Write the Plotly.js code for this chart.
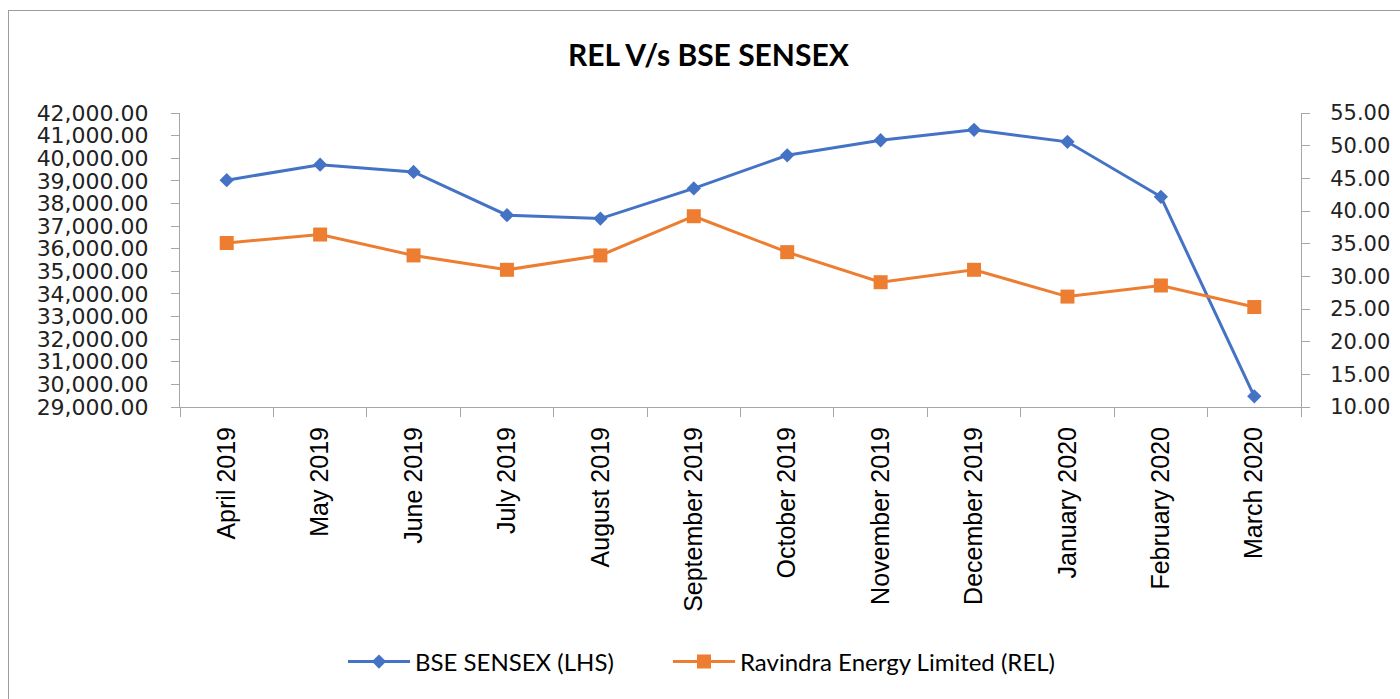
<!DOCTYPE html>
<html>
<head>
<meta charset="utf-8">
<script src="https://cdn.plot.ly/plotly-3.0.1.min.js"></script>
<style>
  html, body { margin: 0; padding: 0; overflow: hidden; background: #fff; }
  #chart { position: absolute; left: 0; top: 0; width: 1400px; height: 699px; }
  #frame { position: absolute; left: 8px; top: 10px; width: 1500px; height: 800px;
           border: 1px solid #9c9c9c; pointer-events: none; }
</style>
</head>
<body>
<div id="chart"></div>
<div id="frame"></div>
<script>
const months = ["April 2019","May 2019","June 2019","July 2019","August 2019","September 2019",
                "October 2019","November 2019","December 2019","January 2020","February 2020","March 2020"];
const sensex = [39030, 39715, 39395, 37480, 37330, 38665, 40130, 40795, 41255, 40725, 38295, 29470];
const rel = [35.1, 36.4, 33.2, 31.0, 33.2, 39.2, 33.7, 29.1, 31.0, 26.9, 28.6, 25.3];
const leftTicks = [29000,30000,31000,32000,33000,34000,35000,36000,37000,38000,39000,40000,41000,42000];
const rightTicks = [10,15,20,25,30,35,40,45,50,55];
const seriesNames = ['BSE SENSEX (LHS)', 'Ravindra Energy Limited (REL)'];

const axisGray = '#a6a6a6';
const pad = '\u00A0'.repeat(8);
const traces = [
  { x: months, y: sensex, name: seriesNames[0] + pad, type: 'scatter', mode: 'lines+markers',
    line: { color: '#4472C4', width: 3 }, marker: { symbol: 'diamond', size: 11, color: '#4472C4' },
    yaxis: 'y' },
  { x: months, y: rel, name: seriesNames[1], type: 'scatter', mode: 'lines+markers',
    line: { color: '#ED7D31', width: 3 }, marker: { symbol: 'square', size: 14, color: '#ED7D31' },
    yaxis: 'y2' }
];

const layout = {
  width: 1400, height: 699,
  paper_bgcolor: '#ffffff', plot_bgcolor: '#ffffff',
  margin: { l: 180, r: 99, t: 113, b: 292 },
  title: { text: '<b>REL V/s BSE SENSEX</b>', xref: 'container', x: 0.506, xanchor: 'center',
           yref: 'container', y: 0.921, yanchor: 'middle',
           font: { family: 'Lato, "Liberation Sans", sans-serif', size: 30, color: '#000' } },
  xaxis: {
    type: 'category', range: [-0.5, 11.5], tickangle: -90, tickson: 'boundaries',
    showline: true, linecolor: axisGray, linewidth: 1, ticks: 'outside', ticklen: 9, tickcolor: axisGray,
    showgrid: false, zeroline: false, ticklabelstandoff: 9,
    tickfont: { family: '"Liberation Sans", Arial, sans-serif', size: 25, color: '#000' }
  },
  yaxis: {
    range: [29000, 42000], tickvals: leftTicks, tickformat: ',.2f',
    showline: true, linecolor: axisGray, linewidth: 1, ticks: 'outside', ticklen: 8, tickcolor: axisGray,
    showgrid: false, zeroline: false, ticklabelstandoff: 18,
    tickfont: { family: '"DejaVu Sans", sans-serif', size: 22, color: '#222' }
  },
  yaxis2: {
    range: [10, 55], tickvals: rightTicks, tickformat: '.2f', overlaying: 'y', side: 'right',
    showline: true, linecolor: axisGray, linewidth: 1, ticks: 'outside', ticklen: 8, tickcolor: axisGray,
    showgrid: false, zeroline: false, ticklabelstandoff: 16,
    tickfont: { family: '"DejaVu Sans", sans-serif', size: 21, color: '#222' }
  },
  showlegend: true,
  legend: {
    orientation: 'h', xref: 'container', yref: 'container', x: 343/1400, y: 1 - 662/699,
    xanchor: 'left', yanchor: 'middle', bgcolor: 'rgba(0,0,0,0)', itemwidth: 62,
    font: { family: 'Lato, "Liberation Sans", sans-serif', size: 24, color: '#000' }
  }
};

Plotly.newPlot('chart', traces, layout, { displayModeBar: false, staticPlot: true });
</script>
</body>
</html>
